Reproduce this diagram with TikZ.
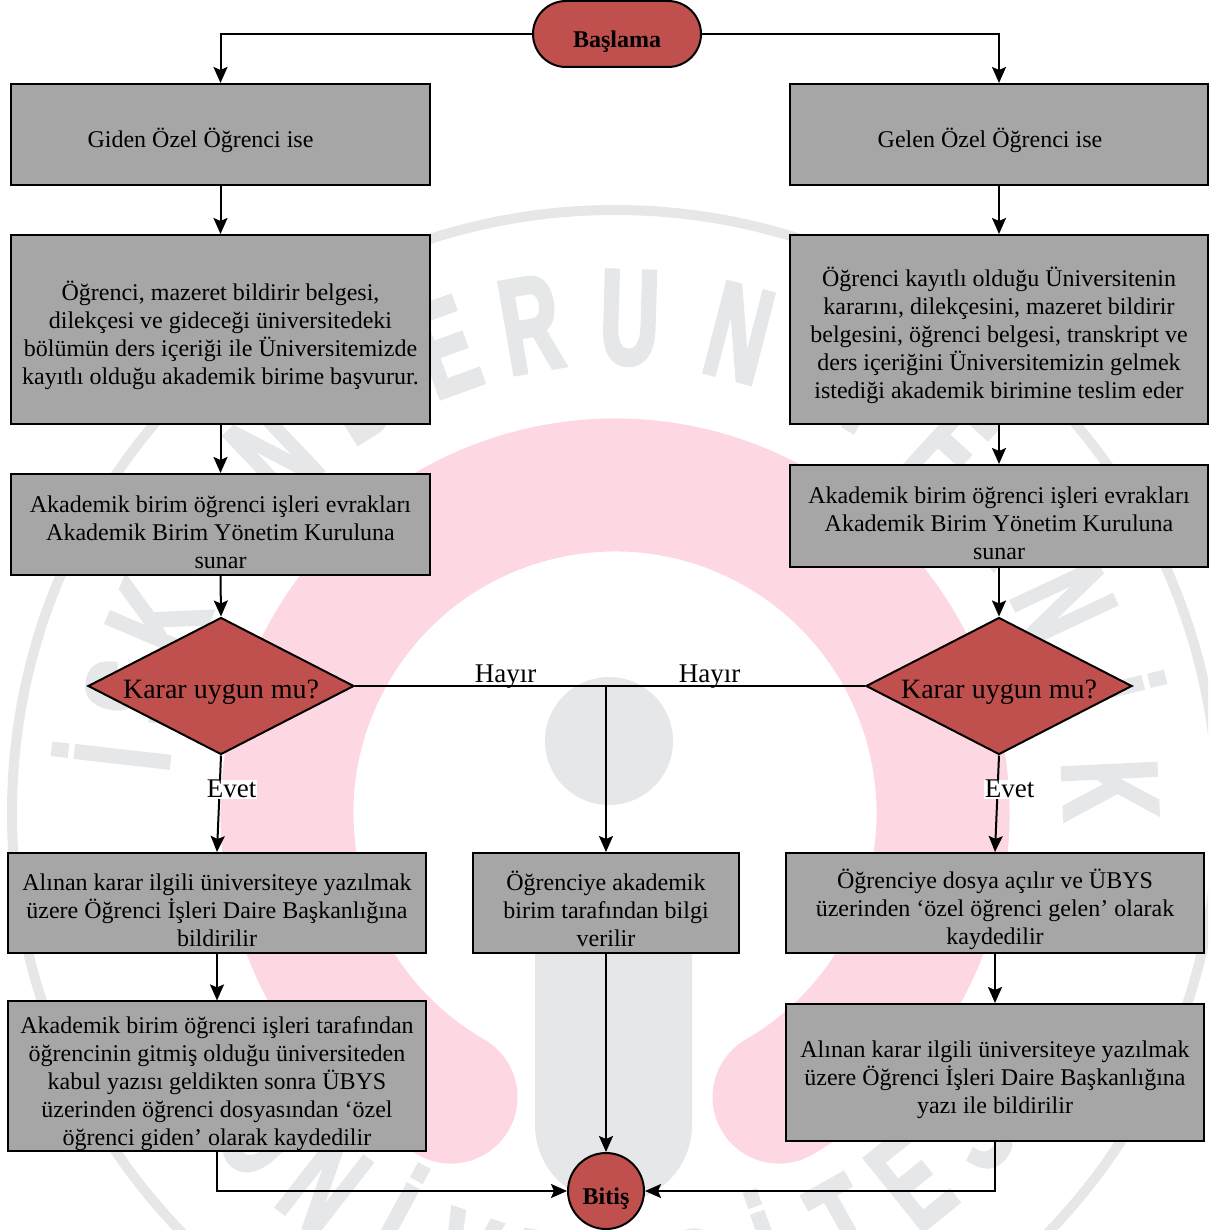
\documentclass[tikz,border=0pt]{standalone}
\usepackage{fontspec}
\setmainfont{Liberation Serif}
\newfontfamily\wmfont[FakeStretch=0.6, FakeBold=2.5]{Liberation Sans}
\usepackage{xcolor}
\usepackage{tikz}
\usetikzlibrary{shapes.geometric}
\usetikzlibrary{arrows.meta}

\definecolor{boxgray}{RGB}{166,166,166}
\definecolor{kred}{RGB}{192,80,77}
\definecolor{wmgray}{RGB}{230,231,232}
\definecolor{wmpink}{RGB}{253,215,225}
\newcommand{\tstrut}{\rule{0pt}{32pt}}

\begin{document}
\begin{tikzpicture}[x = 1pt, y = -1pt,
	box/.style = {draw, line width = 2pt, fill = boxgray, minimum width = 419pt, align = center, inner sep = 0pt, font = \fontsize{24}{28}\selectfont},
	decision/.style = {draw, line width = 2pt, fill = kred, shape = diamond, aspect = 1.94, minimum width = 266pt, minimum height = 137pt, inner ysep = 0pt, inner xsep = -4pt, font = \fontsize{28}{32}\selectfont},
	ends/.style = {draw, line width = 2pt, fill = kred, font = \fontsize{24}{28}\selectfont\bfseries},
	arr/.style = {line width = 2pt, -{Stealth[length = 16pt, width = 14pt, inset = 3pt]}},
	lbl/.style = {font = \fontsize{27}{30}\selectfont, inner sep = 0.5pt},
	wmletter/.style = {font = \wmfont\bfseries\fontsize{136}{136}\selectfont, text = wmgray, inner sep = 0pt, anchor = base}]
	\useasboundingbox (0,0) rectangle (1208,1230);
	% watermark
	\begin{scope}
		\clip (0,0) rectangle (1208,1230);
		\begin{scope}[shift = {(615,813)}, y = 1pt]
			\draw[wmgray, line width = 10pt] (0,0) circle (603);
			\draw[wmpink, line width = 133pt, line cap = round] (240:328) arc[start angle = 240, end angle = -60, radius = 328];
			\fill[wmgray] (-6,72) circle (64);
			\fill[wmgray, rounded corners = 78pt] (-80,-47) rectangle (77,-390);
			\foreach \a/\ch [count = \n] in {173.5/İ, 165.8/S, 157/K, 145/E, 133.5/N, 121.8/D, 110/E, 99.8/R, 88.3/U, 75.5/N, 58.7/T, 47.5/E, 36.3/K, 25.1/N, 13.9/İ, 2.7/K}{
				\node[wmletter, rotate = \a - 90] (wt\n) at (\a:449) {\ch};}
			\foreach \a/\ch [count = \n] in {222.4/Ü, 232/N, 241.6/İ, 251.2/V, 260.8/E, 270.4/R, 280/S, 289.6/İ, 299.2/T, 308.8/E, 318.4/S, 328/İ}{
				\node[wmletter, rotate = \a + 90] (wb\n) at (\a:519) {\ch};}
		\end{scope}
	\end{scope}
	% flow
	\node[ends, rounded corners = 33pt, minimum width = 168pt, minimum height = 66pt] (start) at (617,34) {\tstrut Başlama};
	\node[box, minimum height = 101pt] (giden) at (220.5,134.5) {\tstrut Giden Özel Öğrenci ise\hspace*{40pt}};
	\node[box, minimum width = 418pt, minimum height = 101pt] (gelen) at (999,134.5) {\tstrut Gelen Özel Öğrenci ise\hspace*{18pt}};
	\node[box, minimum height = 189pt] (gbasvuru) at (220.5,329.5) {\tstrut Öğrenci, mazeret bildirir belgesi,\\ dilekçesi ve gideceği üniversitedeki\\ bölümün ders içeriği ile Üniversitemizde\\ kayıtlı olduğu akademik birime başvurur.};
	\node[box, minimum width = 418pt, minimum height = 189pt] (lteslim) at (999,329.5) {\tstrut Öğrenci kayıtlı olduğu Üniversitenin\\ kararını, dilekçesini, mazeret bildirir\\ belgesini, öğrenci belgesi, transkript ve\\ ders içeriğini Üniversitemizin gelmek\\ istediği akademik birimine teslim eder};
	\node[box, minimum height = 101pt] (gsunar) at (220.5,524.5) {\tstrut Akademik birim öğrenci işleri evrakları\\ Akademik Birim Yönetim Kuruluna\\ sunar};
	\node[box, minimum width = 418pt, minimum height = 102pt] (lsunar) at (999,516) {\tstrut Akademik birim öğrenci işleri evrakları\\ Akademik Birim Yönetim Kuruluna\\ sunar};
	\node[decision] (gkarar) at (221,686) {\tstrut Karar uygun mu?};
	\node[decision] (lkarar) at (999,686) {\tstrut Karar uygun mu?};
	\node[box, minimum width = 418pt, minimum height = 100pt] (gbildir) at (217,903) {\tstrut Alınan karar ilgili üniversiteye yazılmak\\ üzere Öğrenci İşleri Daire Başkanlığına\\ bildirilir};
	\node[box, minimum width = 266pt, minimum height = 100pt] (bilgi) at (606,903) {\tstrut Öğrenciye akademik\\ birim tarafından bilgi\\ verilir};
	\node[box, minimum width = 418pt, minimum height = 100pt] (ldosya) at (995,903) {\tstrut Öğrenciye dosya açılır ve ÜBYS\\ üzerinden ‘özel öğrenci gelen’ olarak\\ kaydedilir};
	\node[box, minimum width = 418pt, minimum height = 146pt] (gkayit) at (217,1076) {\tstrut Akademik birim öğrenci işleri tarafından\\ öğrencinin gitmiş olduğu üniversiteden\\ kabul yazısı geldikten sonra ÜBYS\\ üzerinden öğrenci dosyasından ‘özel\\ öğrenci giden’ olarak kaydedilir};
	\node[box, minimum width = 418pt, minimum height = 137pt] (lbildir) at (995,1072.5) {\tstrut Alınan karar ilgili üniversiteye yazılmak\\ üzere Öğrenci İşleri Daire Başkanlığına\\ yazı ile bildirilir};
	\node[ends, circle, minimum size = 76pt, inner sep = 0pt] (bitis) at (606,1191) {\tstrut Bitiş};
	\coordinate (hayir) at (bilgi.north |- gkarar.east);
	% connectors
	\draw[arr] (start.west) -| (giden.north);
	\draw[arr] (start.east) -| (gelen.north);
	\draw[arr] (giden) -- (gbasvuru);
	\draw[arr] (gbasvuru) -- (gsunar);
	\draw[arr] (gsunar.south) -- (gkarar.north);
	\draw[arr] (gelen) -- (lteslim);
	\draw[arr] (lteslim) -- (lsunar);
	\draw[arr] (lsunar) -- (lkarar);
	\draw[line width = 2pt] (gkarar.east) -- node[lbl, pos = 0.6, anchor = base, yshift = 4pt] {Hayır} (hayir) -- node[lbl, pos = 0.4, anchor = base, yshift = 4pt] {Hayır} (lkarar.west);
	\draw[arr] (hayir) -- (bilgi.north);
	\draw[arr] (gkarar.south) -- node[lbl, fill = white, pos = 0.35, xshift = 12pt] {Evet} (gbildir.north);
	\draw[arr] (lkarar.south) -- node[lbl, fill = white, pos = 0.35, xshift = 12pt] {Evet} (ldosya.north);
	\draw[arr] (gbildir) -- (gkayit);
	\draw[arr] (ldosya) -- (lbildir);
	\draw[arr] (bilgi) -- (bitis);
	\draw[arr] (gkayit.south) |- (bitis.west);
	\draw[arr] (lbildir.south) |- (bitis.east);
\end{tikzpicture}
\end{document}
